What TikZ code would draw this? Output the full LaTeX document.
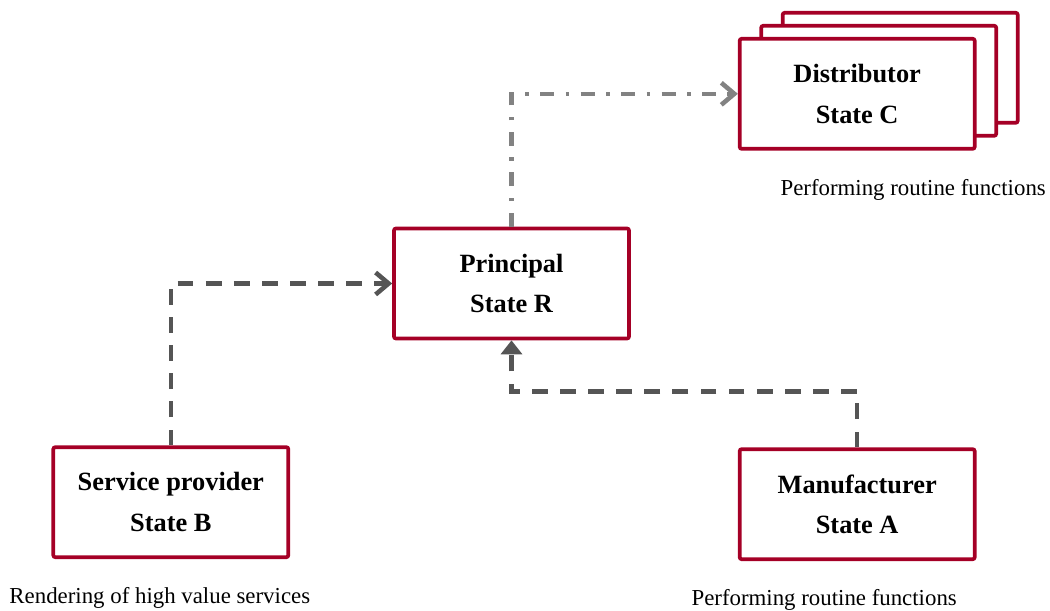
\documentclass[tikz,border=0pt]{standalone}
\usepackage{fontspec}
\setmainfont{Liberation Serif}
\usepackage{tikz}
\usetikzlibrary{positioning, shadows, arrows.meta, calc}
\definecolor{staterred}{RGB}{165, 0, 38}
\definecolor{linkgray}{RGB}{85, 85, 85}
\definecolor{lightgray}{RGB}{130, 130, 130}

\begin{document}
\begin{tikzpicture}[
  statebox/.style={rectangle, rounded corners=0.4mm, draw=staterred, fill=white,
    line width=2.1pt, align=center, minimum width=4.7cm, minimum height=2.2cm,
    font=\fontsize{15}{23}\selectfont\bfseries},
  note/.style={inner sep=0pt, font=\fontsize{13}{15}\selectfont},
  link/.style={line width=2.6pt, draw=linkgray, dash pattern=on 9pt off 7pt},
  hint/.style={line width=2.6pt, draw=lightgray,
    dash pattern=on 8pt off 6.5pt on 2pt off 6.5pt},
  barb/.style={-{Straight Barb[length=2.6mm, width=4.4mm, line width=2.6pt]}}
]
  \useasboundingbox (0,0) rectangle (21,12.2);

  \node[statebox] (prin) at (10.23,6.53) {Principal\\State R};
  \node[statebox, below left=2.1cm and 2.04cm of prin] (serv) {Service provider\\State B};
  \node[statebox, below right=2.14cm and 2.14cm of prin] (manu) {Manufacturer\\State A};
  \node[statebox, above right=1.52cm and 2.14cm of prin,
    double copy shadow={shadow xshift=0.43cm, shadow yshift=0.26cm}] (dist) {Distributor\\State C};

  \node[note, below=0.56cm of serv, xshift=-0.22cm] (servnote) {Rendering of high value services};
  \node[note, below=0.56cm of manu, xshift=-0.66cm] (manunote) {Performing routine functions};
  \node[note, below=0.56cm of dist, xshift=1.12cm] (distnote) {Performing routine functions};

  \draw[link, barb] (serv.north) |- (prin.west);
  \draw[link, -{Triangle[length=2.8mm, width=4.2mm]}] (manu.north) -- ++(0,1.12) -| (prin.south);
  \draw[hint, barb] (prin.north) |- (dist.west);
\end{tikzpicture}
\end{document}
